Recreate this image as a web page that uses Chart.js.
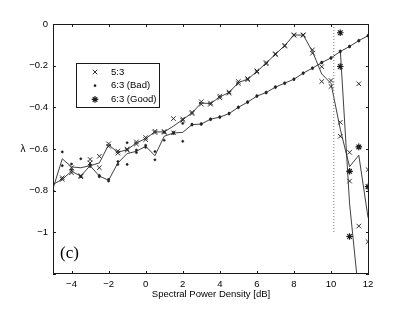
<!DOCTYPE html>
<html>
<head>
<meta charset="utf-8">
<script src="https://cdn.jsdelivr.net/npm/chart.js@4/dist/chart.umd.min.js"></script>
<style>
  html, body { margin: 0; padding: 0; background: #fff; }
  canvas { display: block; }
</style>
</head>
<body>
<canvas id="container" width="409" height="309"></canvas>
<script>
// spectral power density grid [dB]
var spd = [-5, -4.5, -4, -3.5, -3, -2.5, -2, -1.5, -1, -0.5, 0, 0.5, 1, 1.5, 2, 2.5, 3, 3.5,
           4, 4.5, 5, 5.5, 6, 6.5, 7, 7.5, 8, 8.5, 9, 9.5, 10, 10.5, 11, 11.5, 12];

// mean curves
var line53 = [-0.77, -0.745, -0.707, -0.73, -0.68, -0.667, -0.58, -0.616, -0.603, -0.571, -0.55, -0.518,
              -0.518, -0.49, -0.459, -0.427, -0.379, -0.382, -0.35, -0.329, -0.281, -0.265, -0.228, -0.188,
              -0.145, -0.104, -0.053, -0.053, -0.132, -0.24, -0.285, -0.505, -0.685, -0.63, -0.93];
var lineBad = [-0.79, -0.647, -0.686, -0.69, -0.68, -0.73, -0.75, -0.667, -0.622, -0.611, -0.587, -0.632,
               -0.539, -0.523, -0.52, -0.483, -0.48, -0.457, -0.447, -0.43, -0.40, -0.375, -0.346, -0.329,
               -0.303, -0.284, -0.265, -0.236, -0.212, -0.185, -0.163, -0.132, -0.108, -0.080, -0.056];
var goodX = [10.5, 11, 11.5];
var lineGood = [-0.123, -0.86, -1.3];

// individual runs (two per setting)
var m53a = [null, -0.738, -0.69, -0.728, -0.65, -0.635, -0.587, -0.61, -0.60, -0.566, -0.545, -0.515,
            -0.516, -0.454, -0.456, -0.424, -0.373, -0.379, -0.346, -0.326, -0.276, -0.262, -0.225, -0.185,
            -0.143, -0.102, -0.052, -0.052, -0.124, -0.205, -0.271, -0.472, -0.616, -0.287, -0.699];
var m53b = [null, -0.746, -0.714, -0.733, -0.667, -0.69, -0.575, -0.62, -0.606, -0.576, -0.555, -0.521,
            -0.52, -0.522, -0.462, -0.43, -0.385, -0.385, -0.354, -0.332, -0.286, -0.268, -0.231, -0.191,
            -0.147, -0.106, -0.054, -0.054, -0.14, -0.276, -0.30, -0.539, -0.754, -0.97, -1.045];
var badA = [-0.80, -0.614, -0.672, -0.647, -0.676, -0.727, -0.746, -0.66, -0.57, -0.605, -0.582, -0.612,
            -0.52, -0.52, -0.477, -0.481, -0.478, -0.455, -0.445, -0.428, -0.398, -0.373, -0.344, -0.327,
            -0.301, -0.282, -0.263, -0.234, -0.21, -0.183, -0.161, -0.13, -0.106, -0.078, -0.054];
var badB = [-0.80, -0.68, -0.70, -0.733, -0.684, -0.733, -0.754, -0.674, -0.674, -0.617, -0.592, -0.652,
            -0.558, -0.526, -0.563, -0.485, -0.482, -0.459, -0.449, -0.432, -0.402, -0.377, -0.348, -0.331,
            -0.305, -0.286, -0.267, -0.238, -0.214, -0.187, -0.165, -0.134, -0.11, -0.082, -0.058];
var goodA = [-0.042, -0.707, -0.59, -0.781];
var goodB = [-0.204, -1.02, null, null];
var goodMX = [10.5, 11, 11.5, 12];

// dotted marker line
var dotX = [10.15, 10.15];
var dotY = [0, -1];

var xTicks = [-4, -2, 0, 2, 4, 6, 8, 10, 12];
var yTicks = [0, -0.2, -0.4, -0.6, -0.8, -1];
var frameYTicks = [0, -0.2, -0.4, -0.6, -0.8, -1, -1.2];
var seriesNames = ['5:3', '6:3 (Bad)', '6:3 (Good)'];
var xTitle = 'Spectral Power Density [dB]';
var yTitle = 'λ';
var panelTag = '(c)';

function pts(xs, ys) {
    var out = [];
    for (var i = 0; i < xs.length; i++) {
        if (ys[i] !== null) out.push({x: xs[i], y: ys[i]});
    }
    return out;
}

function fmt(v) {
    if (v === 0) return '0';
    return (v < 0 ? '\u2212' : '') + Math.abs(Math.round(v * 10) / 10);
}

var INK = '#1a1a1a';
var FONT = '"Liberation Sans", Arial, sans-serif';
var markerStyles = [
    {pointStyle: 'crossRot', radius: 3.2, borderWidth: 0.9},
    {pointStyle: 'circle', radius: 1.1, borderWidth: 0.5},
    {pointStyle: 'star', radius: 3.3, borderWidth: 1.2}
];

function markerSet(data, k) {
    var s = markerStyles[k];
    return {
        data: data, showLine: false,
        pointStyle: s.pointStyle, pointRadius: s.radius, pointBorderWidth: s.borderWidth,
        pointBorderColor: INK, pointBackgroundColor: INK
    };
}

function lineSet(data) {
    return {
        data: data, showLine: true, pointRadius: 0,
        borderColor: '#2a2a2a', borderWidth: 0.9, tension: 0
    };
}

// box, inward ticks, legend, y label and panel tag
var frame = {
    id: 'frame',
    afterDatasetsDraw: function(chart) {
        var ctx = chart.ctx, a = chart.chartArea, sx = chart.scales.x, sy = chart.scales.y;
        var t = 3, i, p;
        ctx.save();
        ctx.strokeStyle = INK;
        ctx.lineWidth = 1;
        ctx.strokeRect(a.left + 0.5, a.top + 0.5, a.right - a.left - 1, a.bottom - a.top - 1);
        ctx.beginPath();
        for (i = 0; i < xTicks.length; i++) {
            p = Math.round(sx.getPixelForValue(xTicks[i])) + 0.5;
            ctx.moveTo(p, a.bottom); ctx.lineTo(p, a.bottom - t);
            ctx.moveTo(p, a.top); ctx.lineTo(p, a.top + t);
        }
        for (i = 0; i < frameYTicks.length; i++) {
            p = Math.round(sy.getPixelForValue(frameYTicks[i])) + 0.5;
            ctx.moveTo(a.left, p); ctx.lineTo(a.left + t, p);
            ctx.moveTo(a.right, p); ctx.lineTo(a.right - t, p);
        }
        ctx.stroke();

        // legend
        var lx = a.left + 23, ly = a.top + 39, lw = 83, lh = 44;
        ctx.fillStyle = '#fff';
        ctx.fillRect(lx, ly, lw, lh);
        ctx.strokeRect(lx + 0.5, ly + 0.5, lw, lh);
        ctx.font = '9.5px ' + FONT;
        ctx.textBaseline = 'middle';
        for (i = 0; i < seriesNames.length; i++) {
            var yy = ly + 9 + i * 13.7;
            var s = markerStyles[i];
            ctx.strokeStyle = INK;
            ctx.fillStyle = INK;
            ctx.lineWidth = s.borderWidth;
            Chart.helpers.drawPoint(ctx, {pointStyle: s.pointStyle, radius: s.radius, rotation: 0,
                borderWidth: s.borderWidth}, lx + 19, yy);
            ctx.fillStyle = '#000';
            ctx.fillText(seriesNames[i], lx + 35, yy);
        }

        // upright y label, left of the tick labels
        ctx.font = '10px ' + FONT;
        ctx.textAlign = 'center';
        ctx.fillText(yTitle, a.left - 30, (a.top + a.bottom) / 2);

        ctx.textAlign = 'left';
        ctx.font = '17px "Liberation Serif", "Times New Roman", serif';
        ctx.textBaseline = 'alphabetic';
        ctx.fillText(panelTag, a.left + 7, a.bottom - 16);
        ctx.restore();
    }
};

Chart.defaults.font.family = FONT;
Chart.defaults.font.size = 9.5;
Chart.defaults.color = '#000';

var chart = new Chart(document.getElementById('container'), {
    type: 'scatter',
    data: {
        datasets: [
            {
                data: pts(dotX, dotY), showLine: true, pointRadius: 0,
                borderColor: '#777', borderWidth: 1, borderDash: [1, 2]
            },
            lineSet(pts(spd, line53)),
            lineSet(pts(spd, lineBad)),
            lineSet(pts(goodX, lineGood)),
            markerSet(pts(spd, m53a), 0),
            markerSet(pts(spd, m53b), 0),
            markerSet(pts(spd, badA), 1),
            markerSet(pts(spd, badB), 1),
            markerSet(pts(goodMX, goodA), 2),
            markerSet(pts(goodMX, goodB), 2)
        ]
    },
    options: {
        responsive: false,
        animation: false,
        devicePixelRatio: 1,
        layout: {padding: {left: 0, right: 40, top: 24, bottom: 0}},
        plugins: {legend: {display: false}, tooltip: {enabled: false}},
        scales: {
            x: {
                type: 'linear', min: -5, max: 12.05,
                grid: {display: false, drawTicks: false},
                border: {display: false},
                ticks: {padding: 5, callback: fmt, maxRotation: 0, autoSkip: false},
                afterBuildTicks: function(s) { s.ticks = xTicks.map(function(v) { return {value: v}; }); },
                afterFit: function(s) { s.height = 35; },
                title: {display: true, text: xTitle, padding: {top: 0, bottom: 9}}
            },
            y: {
                type: 'linear', min: -1.2, max: 0,
                grid: {display: false, drawTicks: false},
                border: {display: false},
                ticks: {padding: 5, callback: fmt, autoSkip: false},
                afterBuildTicks: function(s) { s.ticks = yTicks.map(function(v) { return {value: v}; }); },
                afterFit: function(s) { s.width = 53; }
            }
        }
    },
    plugins: [frame]
});
</script>
</body>
</html>
